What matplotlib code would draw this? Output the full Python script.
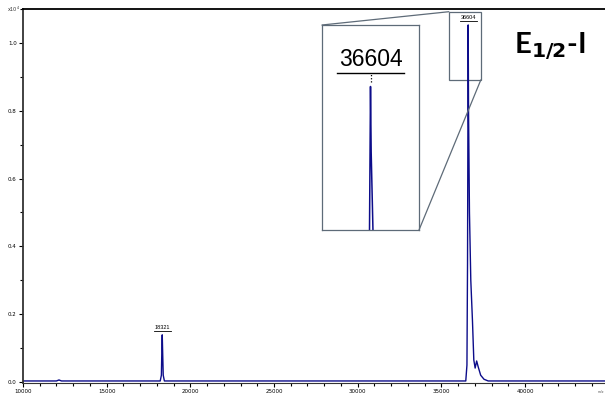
import matplotlib
matplotlib.use("Agg")
import matplotlib.pyplot as plt
from matplotlib.patches import Rectangle, ConnectionPatch
from matplotlib.ticker import MultipleLocator

# =========================
# DATA
# =========================
mz = [10000, 12000, 12150, 12200, 12300, 18200, 18270, 18300, 18321, 18345,
      18380, 18450, 36460, 36530, 36565, 36590, 36604, 36625, 36680, 36760,
      36860, 36940, 37020, 37110, 37200, 37350, 37550, 37800, 44780]
intensity = [0.003, 0.003, 0.006, 0.005, 0.003, 0.003, 0.02, 0.10, 0.139, 0.09,
             0.02, 0.003, 0.003, 0.05, 0.35, 0.8, 1.053, 0.8, 0.5, 0.3,
             0.18, 0.065, 0.041, 0.062, 0.045, 0.02, 0.008, 0.003, 0.003]

peak_labels = ["18321", "36604"]
peak_mz = [18321, 36604]
peak_top = [0.139, 1.053]

x_range = (10000, 44780)
y_range = (-0.003, 1.1)
zoom_x = (35448, 37360)
zoom_y = (0.891, 1.092)

line_col = "#0c0c8a"
frame_col = "#5e6b78"

# =========================
# MAIN SPECTRUM
# =========================
fig = plt.figure(figsize=(6.05, 3.97), dpi=100)
ax = fig.add_axes([23 / 605, 1 - 383 / 397, 1 - 23 / 605, 374 / 397])
ax.plot(mz, intensity, color=line_col, linewidth=1.0)
ax.set_xlim(*x_range)
ax.set_ylim(*y_range)

ax.xaxis.set_major_locator(MultipleLocator(5000))
ax.xaxis.set_minor_locator(MultipleLocator(1000))
ax.yaxis.set_major_locator(MultipleLocator(0.2))
ax.yaxis.set_minor_locator(MultipleLocator(0.1))
ax.yaxis.set_major_formatter(lambda v, p: f"{v:.1f}")
ax.tick_params(which="both", direction="out", labelsize=4, width=0.8, colors="black")
ax.tick_params(which="major", length=3, pad=1.5)
ax.tick_params(which="minor", length=2)
ax.spines["right"].set_visible(False)
ax.spines["top"].set_linewidth(1.3)
ax.spines["left"].set_linewidth(1.3)
ax.spines["left"].set_color("#333333")
ax.spines["bottom"].set_linewidth(0.8)
ax.spines["bottom"].set_color("#333333")

ax.text(-0.005, 1.0, "x10$^4$", transform=ax.transAxes, fontsize=3.5,
        ha="right", va="center", color="#333333")
ax.text(0.993, -0.025, "m/z", transform=ax.transAxes, fontsize=2.5,
        ha="center", va="center", color="#555555")

# peak labels, underlined
for lab, x, y in zip(peak_labels, peak_mz, peak_top):
    ax.text(x, y + 0.015, lab, fontsize=4, ha="center", va="bottom",
            family="Liberation Sans")
    ax.plot([x - 500, x + 500], [y + 0.012, y + 0.012], color="black", linewidth=0.6)

# zoom box on main axes
ax.add_patch(Rectangle((zoom_x[0], zoom_y[0]), zoom_x[1] - zoom_x[0],
                       zoom_y[1] - zoom_y[0], fill=False,
                       edgecolor=frame_col, linewidth=0.9))

ax.text(0.905, 0.9, "E$_{\\mathbf{1/2}}$-I", transform=ax.transAxes,
        fontsize=21, fontweight="bold", family="Lato", ha="center", va="center")

# =========================
# INSET
# =========================
ins = fig.add_axes([322 / 605, 1 - 230 / 397, 97 / 605, 205 / 397])
ins.plot(mz, intensity, color=line_col, linewidth=1.1)
ins.set_xlim(peak_mz[1] - 1500, peak_mz[1] + 1500)
ins.set_ylim(0.5, 1.29)
ins.set_xticks([])
ins.set_yticks([])
for s in ins.spines.values():
    s.set_color(frame_col)
    s.set_linewidth(0.9)

ins.text(0.5, 0.775, peak_labels[1], transform=ins.transAxes, fontsize=16.5,
         family="Liberation Sans", ha="center", va="bottom")
ins.plot([0.15, 0.85], [0.765, 0.765], transform=ins.transAxes,
         color="black", linewidth=1.0)
ins.plot([0.5, 0.5], [0.72, 0.76], transform=ins.transAxes,
         color="black", linewidth=0.9, linestyle=(0, (1, 1.5)))

# connector lines
for xa, xb, yb in [(0, zoom_x[0], zoom_y[1]), (1, zoom_x[1], zoom_y[0])]:
    ya = 1 - xa
    con = ConnectionPatch(xyA=(xa, ya), coordsA=ins.transAxes,
                          xyB=(xb, yb), coordsB=ax.transData,
                          color=frame_col, linewidth=0.9)
    fig.add_artist(con)

plt.savefig("out.png", dpi=100)
